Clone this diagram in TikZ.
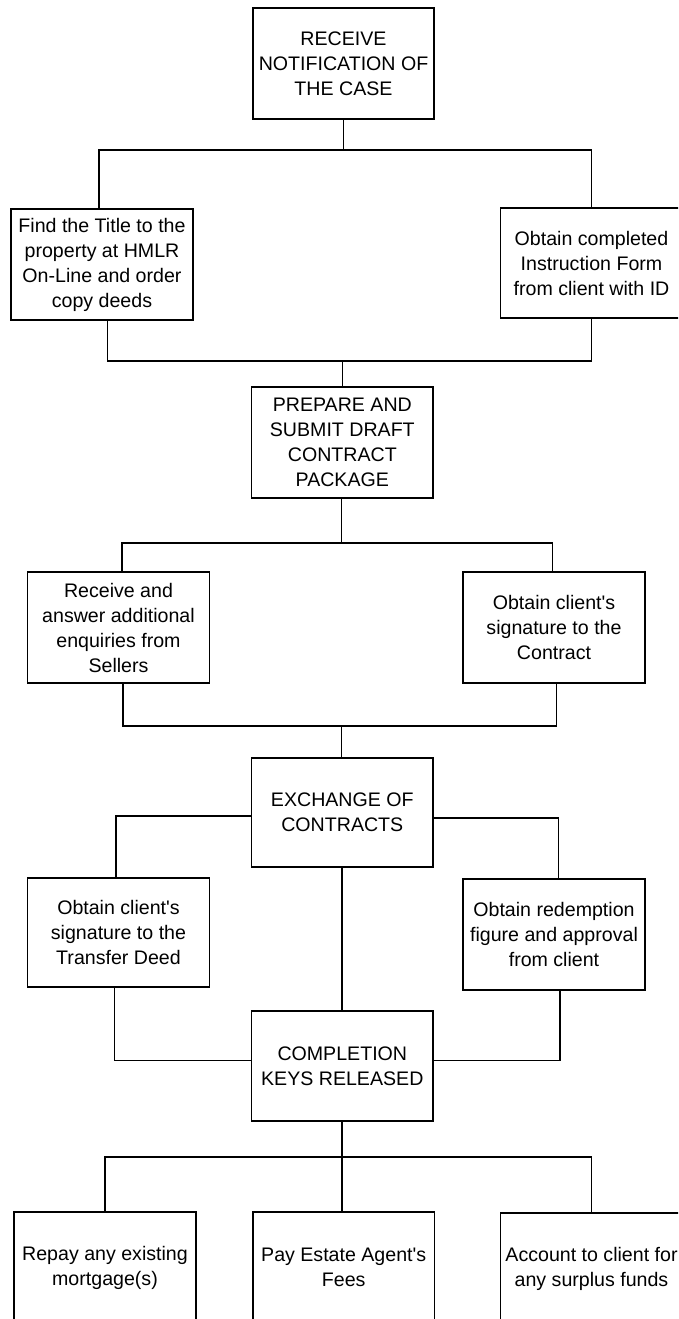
\documentclass[tikz,border=0pt]{standalone}
\usepackage{fontspec}
\setmainfont{Liberation Sans}
\usetikzlibrary{calc}
\begin{document}
\begin{tikzpicture}[x=0.75pt,y=-0.75pt,
  box/.style={draw, line width=1.3pt, align=center, inner sep=0pt,
    font=\fontsize{14.7}{18.75}\selectfont},
  wbox/.style={box, minimum width=136.5pt},
  cbox/.style={box, minimum width=136.1pt},
  link/.style={line width=1.3pt}]
\useasboundingbox (0,0) rectangle (678,1319);
\clip (0,0) rectangle (678,1319);
\fill[white] (0,0) rectangle (678,1319);

\node[cbox, minimum height=83.25pt] (n1) at (343.5,63.5) {RECEIVE\\NOTIFICATION OF\\THE CASE};
\node[wbox, minimum height=83.25pt] (n2) at (102,264.5) {Find the Title to the\\property at HMLR\\On-Line and order\\copy deeds};
\node[wbox, minimum height=82.5pt] (n3) at (591.5,263) {Obtain completed\\Instruction Form\\from client with ID};
\node[cbox, minimum height=83.25pt] (n4) at (342.3,442.5) {PREPARE AND\\SUBMIT DRAFT\\CONTRACT\\PACKAGE};
\node[wbox, minimum height=83.25pt] (n5) at (118.5,627.5) {Receive and\\answer additional\\enquiries from\\Sellers};
\node[wbox, minimum height=83.25pt] (n6) at (554,627.5) {Obtain client\textquotesingle s\\signature to the\\Contract};
\node[cbox, minimum height=81.75pt] (n7) at (342.3,812.5) {EXCHANGE OF\\CONTRACTS};
\node[wbox, minimum height=81.75pt] (n8) at (118.5,932.5) {Obtain client\textquotesingle s\\signature to the\\Transfer Deed};
\node[wbox, minimum height=83.25pt] (n9) at (554,934.5) {Obtain redemption\\figure and approval\\from client};
\node[cbox, minimum height=82.5pt] (n10) at (342.3,1066) {COMPLETION\\KEYS RELEASED};
\node[wbox, minimum height=83.25pt] (n11) at (105,1267.5) {Repay any existing\\mortgage(s)};
\node[cbox, minimum height=83.25pt] (n12) at (343.7,1267.5) {Pay Estate Agent\textquotesingle s\\Fees};
\node[wbox, minimum height=83.25pt] (n13) at (591.5,1268.5) {Account to client for\\any surplus funds};

% level 1
\coordinate (j1) at (343.5,150);
\draw[link] (n1.south) -- (j1);
\draw[link] ($(n2.north)+(-3,0)$) |- (j1) -| (n3.north);
\coordinate (j2) at (342.5,361);
\draw[link] ($(n2.south)+(5.6,0)$) |- (j2) -| (n3.south);
\draw[link] (j2) -- (j2 |- n4.north);

% level 2
\coordinate (j3) at (341.5,543);
\draw[link] (n4.south -| j3) -- (j3);
\draw[link] ($(n5.north)+(3.5,0)$) |- (j3) -| ($(n6.north)+(-1.5,0)$);
\coordinate (j4) at (341.5,726);
\draw[link] ($(n5.south)+(4.5,0)$) |- (j4) -| ($(n6.south)+(2.5,0)$);
\draw[link] (j4) -- (j4 |- n7.north);

% level 3
\draw[link] ($(n7.west)+(0,3.5)$) -| ($(n8.north)+(-2.5,0)$);
\draw[link] ($(n7.east)+(0,5.5)$) -| ($(n9.north)+(4.5,0)$);
\draw[link] (n7.south) -- (n10.north);
\draw[link] ($(n8.south)+(-4,0)$) |- ($(n10.west)+(0,-5.5)$);
\draw[link] ($(n9.south)+(6,0)$) |- ($(n10.east)+(0,-5.5)$);

% level 4
\coordinate (j5) at (342.3,1157);
\draw[link] (n10.south) -- (j5);
\draw[link] (n11.north) |- (j5) -| (n13.north);
\draw[link] (j5) -- (j5 |- n12.north);
\end{tikzpicture}
\end{document}
